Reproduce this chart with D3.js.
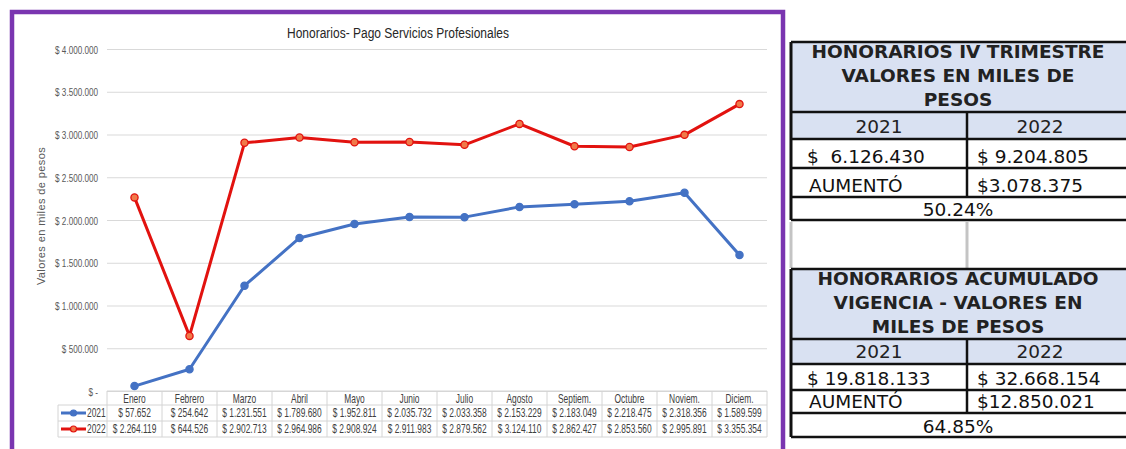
<!DOCTYPE html>
<html>
<head>
<meta charset="utf-8">
<script src="https://cdn.jsdelivr.net/npm/d3@7"></script>
<style>
  body { margin: 0; background: #fff; }
  .narrow { font-family: "Liberation Sans", Arial, sans-serif; }
  .tbl { font-family: "DejaVu Sans", sans-serif; }
</style>
</head>
<body>
<div id="chart"></div>
<script>
// chart data
const months = ["Enero", "Febrero", "Marzo", "Abril", "Mayo", "Junio", "Julio", "Agosto", "Septiem.", "Octubre", "Noviem.", "Diciem."];
const v2021 = [57652, 254642, 1231551, 1789680, 1952811, 2035732, 2033358, 2153229, 2183049, 2218475, 2318356, 1589599];
const v2022 = [2264119, 644526, 2902713, 2964986, 2908924, 2911983, 2879562, 3124110, 2862427, 2853560, 2995891, 3355354];
const yTicks = [0, 500000, 1000000, 1500000, 2000000, 2500000, 3000000, 3500000, 4000000];
const seriesNames = ["2021", "2022"];

// summary tables
const trimTitle = ["HONORARIOS IV TRIMESTRE", "VALORES EN MILES DE", "PESOS"];
const trimValues = ["$  6.126.430", "$ 9.204.805"];
const trimIncrease = "$3.078.375";
const trimPct = "50.24%";
const acumTitle = ["HONORARIOS ACUMULADO", "VIGENCIA - VALORES EN", "MILES DE PESOS"];
const acumValues = ["$ 19.818.133", "$ 32.668.154"];
const acumIncrease = "$12.850.021";
const acumPct = "64.85%";
const incLabel = "AUMENTÓ";

const W = 1126, H = 449;
const svg = d3.select("#chart").append("svg")
    .attr("width", W)
    .attr("height", H);

svg.append("rect").attr("width", W).attr("height", H).attr("fill", "#fff");

const loc = d3.formatLocale({decimal: ",", thousands: ".", grouping: [3], currency: ["$ ", ""]});
const money = loc.format("$,.0f");

// condensed text: place at (x,y) and squeeze horizontally
function squeeze(sel, xf, yf, sx) {
    sel.attr("x", 0).attr("y", 0)
        .attr("transform", (d, i) => `translate(${xf(d, i)},${yf(d, i)}) scale(${sx},1)`);
}

const x = d3.scaleBand().domain(months).range([107, 767]);
const y = d3.scaleLinear().domain([0, 4000000]).range([391, 49]);
const cx = m => x(m) + x.bandwidth() / 2;

// gridlines + y labels
const yAxis = svg.append("g")
    .attr("class", "narrow")
    .attr("transform", "translate(107,0)")
    .call(d3.axisLeft(y).tickValues(yTicks).tickSize(-660).tickPadding(9)
        .tickFormat(d => d === 0 ? "$ -" : money(d)));
yAxis.select(".domain").remove();
yAxis.selectAll(".tick line").attr("stroke", "#d9d9d9");
yAxis.selectAll(".tick text")
    .attr("fill", "#595959").attr("font-size", 11).attr("dy", null)
    .call(squeeze, () => -9, () => 4, 0.74);

svg.append("text")
    .attr("class", "narrow")
    .attr("text-anchor", "middle")
    .attr("font-size", 15)
    .attr("fill", "#262626")
    .text("Honorarios- Pago Servicios Profesionales")
    .call(squeeze, () => 398, () => 38, 0.8);

svg.append("text")
    .attr("transform", "translate(45,216) rotate(-90)")
    .attr("text-anchor", "middle")
    .attr("font-family", "Liberation Sans, Arial, sans-serif")
    .attr("font-size", 11)
    .attr("letter-spacing", 0.4)
    .attr("fill", "#595959")
    .text("Valores en miles de pesos");

// data table under the chart
const rowTop = [391, 405, 421, 437];
const tbl = svg.append("g").attr("class", "narrow");
const gridCol = "#d4d4d4";
const tsx = 0.7, tfs = 12;
tbl.append("line").attr("x1", 107).attr("x2", 767).attr("y1", rowTop[0]).attr("y2", rowTop[0]).attr("stroke", gridCol);
[1, 2, 3].forEach(i => {
    tbl.append("line").attr("x1", 58).attr("x2", 767).attr("y1", rowTop[i]).attr("y2", rowTop[i]).attr("stroke", gridCol);
});
tbl.append("line").attr("x1", 58).attr("x2", 58).attr("y1", rowTop[1]).attr("y2", rowTop[3]).attr("stroke", gridCol);
months.forEach(m => {
    tbl.append("line").attr("x1", x(m)).attr("x2", x(m)).attr("y1", rowTop[0]).attr("y2", rowTop[3]).attr("stroke", gridCol);
});
tbl.append("line").attr("x1", 767).attr("x2", 767).attr("y1", rowTop[0]).attr("y2", rowTop[3]).attr("stroke", gridCol);

tbl.selectAll("text.mon").data(months).enter().append("text")
    .attr("text-anchor", "middle").attr("font-size", tfs).attr("fill", "#404040")
    .text(d => d)
    .call(squeeze, d => cx(d), () => rowTop[0] + 11.5, tsx);

const colors = ["#4472c4", "#e2120f"];
const markerFill = ["#4472c4", "#f07a4a"];
[v2021, v2022].forEach((vals, si) => {
    const ty = rowTop[si + 1] + 12;
    tbl.selectAll("text.v" + si).data(vals).enter().append("text")
        .attr("text-anchor", "middle").attr("font-size", tfs).attr("fill", "#404040")
        .text(d => money(d))
        .call(squeeze, (d, i) => cx(months[i]), () => ty, tsx);
    const my = (rowTop[si + 1] + rowTop[si + 2]) / 2;
    tbl.append("line").attr("x1", 61).attr("x2", 86).attr("y1", my).attr("y2", my)
        .attr("stroke", colors[si]).attr("stroke-width", 3);
    tbl.append("circle").attr("cx", 73.5).attr("cy", my).attr("r", 3)
        .attr("fill", markerFill[si]).attr("stroke", colors[si]).attr("stroke-width", 1.2);
    tbl.append("text").attr("font-size", tfs).attr("fill", "#404040")
        .text(seriesNames[si])
        .call(squeeze, () => 87, () => ty, tsx);
});

// series lines
const line = d3.line().x((d, i) => cx(months[i])).y(d => y(d));
[v2021, v2022].forEach((vals, si) => {
    svg.append("path").datum(vals)
        .attr("d", line)
        .attr("fill", "none")
        .attr("stroke", colors[si])
        .attr("stroke-width", 3)
        .attr("stroke-linejoin", "round");
    svg.selectAll("circle.p" + si).data(vals).enter().append("circle")
        .attr("cx", (d, i) => cx(months[i]))
        .attr("cy", d => y(d))
        .attr("r", 3.6)
        .attr("fill", markerFill[si])
        .attr("stroke", colors[si])
        .attr("stroke-width", 1.3);
});

// purple frame
svg.append("rect")
    .attr("x", 12).attr("y", 12).attr("width", 771).attr("height", 460)
    .attr("fill", "none").attr("stroke", "#7a35b0").attr("stroke-width", 4.5);

// summary tables on the right
const L = 791, M = 967, R = 1132, T1 = 958, C1 = 879, C2 = 1040;
const headFill = "#d9e1f2";
const side = svg.append("g").attr("class", "tbl");

function drawTable(top, rows, title, vals, inc, pct) {
    // rows: [headerBottom, yearBottom, valBottom, incBottom, pctBottom]
    side.append("rect").attr("x", L).attr("y", top).attr("width", R - L).attr("height", rows[1] - top).attr("fill", headFill);
    side.append("rect").attr("x", L).attr("y", rows[1]).attr("width", R - L).attr("height", rows[4] - rows[1]).attr("fill", "#fff");
    [top, rows[0], rows[1], rows[2], rows[3], rows[4]].forEach(yy => {
        side.append("line").attr("x1", L).attr("x2", R).attr("y1", yy).attr("y2", yy)
            .attr("stroke", "#111").attr("stroke-width", 2.5);
    });
    side.append("line").attr("x1", L).attr("x2", L).attr("y1", top).attr("y2", rows[4])
        .attr("stroke", "#111").attr("stroke-width", 3);
    side.append("line").attr("x1", M).attr("x2", M).attr("y1", rows[0]).attr("y2", rows[3])
        .attr("stroke", "#111").attr("stroke-width", 2.5);
    title.forEach((t, i) => {
        side.append("text").attr("x", T1).attr("y", top + 16 + i * 24)
            .attr("text-anchor", "middle").attr("font-size", 18.5).attr("font-weight", "bold").attr("fill", "#222")
            .text(t);
    });
    seriesNames.forEach((s, i) => {
        side.append("text").attr("x", i ? C2 : C1).attr("y", rows[1] - 6)
            .attr("text-anchor", "middle").attr("font-size", 18.5).attr("fill", "#222").text(s);
    });
    side.append("text").attr("x", 807).attr("y", rows[2] - 5).attr("font-size", 18.5).attr("fill", "#111")
        .style("white-space", "pre").text(vals[0]);
    side.append("text").attr("x", 977).attr("y", rows[2] - 5).attr("font-size", 18.5).attr("fill", "#111")
        .style("white-space", "pre").text(vals[1]);
    side.append("text").attr("x", 809).attr("y", rows[3] - 5).attr("font-size", 18.5).attr("fill", "#111").text(incLabel);
    side.append("text").attr("x", 977).attr("y", rows[3] - 5).attr("font-size", 18.5).attr("fill", "#111").text(inc);
    side.append("text").attr("x", T1).attr("y", rows[4] - 4).attr("text-anchor", "middle")
        .attr("font-size", 18.5).attr("fill", "#111").text(pct);
}

drawTable(42, [112, 139, 168, 197, 220], trimTitle, trimValues, trimIncrease, trimPct);

// empty spacer between tables
[L, M].forEach(xx => {
    side.append("line").attr("x1", xx).attr("x2", xx).attr("y1", 222).attr("y2", 268)
        .attr("stroke", "#c4c4c4").attr("stroke-width", 3);
});

drawTable(269, [339, 364, 390, 413, 437], acumTitle, acumValues, acumIncrease, acumPct);
</script>
</body>
</html>
